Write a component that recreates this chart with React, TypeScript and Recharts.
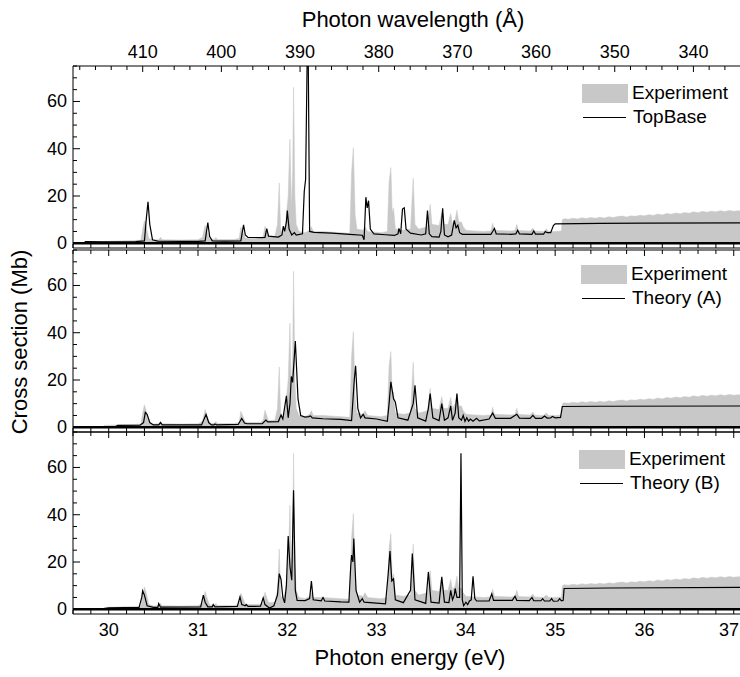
import React from "react";
import {
  ComposedChart,
  Area,
  Line,
  XAxis,
  YAxis,
  ReferenceLine,
  Legend,
} from "recharts";

// photon energy (eV), cross section (Mb)
const experiment: [number, number][] = [
  [29.93, 0], [29.95, 0.8], [30.1, 1.0], [30.3, 1.2], [30.36, 1.3], [30.38, 6], [30.4, 9.5],
  [30.42, 7], [30.45, 2], [30.5, 1.4], [30.56, 1.5], [30.58, 2.5], [30.6, 1.5], [30.8, 1.4],
  [31.0, 1.5], [31.05, 2.5], [31.08, 7.5], [31.1, 5], [31.13, 1.8], [31.18, 1.6], [31.2, 2.4],
  [31.22, 1.6], [31.4, 1.6], [31.46, 2], [31.48, 6.8], [31.5, 5], [31.53, 2.2], [31.56, 2],
  [31.7, 2], [31.73, 3], [31.75, 7.2], [31.77, 5], [31.79, 2.8], [31.86, 3], [31.89, 8],
  [31.91, 25.5], [31.925, 6], [31.95, 4], [31.98, 8], [32.01, 20], [32.03, 44], [32.045, 15],
  [32.06, 30], [32.07, 66], [32.085, 20], [32.1, 8], [32.13, 5], [32.2, 4.5], [32.25, 5.5],
  [32.27, 7], [32.29, 5], [32.4, 5], [32.6, 4.5], [32.7, 4.2], [32.72, 30], [32.74, 40.5],
  [32.76, 12], [32.78, 6], [32.85, 5.5], [32.87, 7], [32.9, 5], [33.05, 4.5], [33.12, 5],
  [33.14, 26], [33.16, 32], [33.175, 13], [33.19, 15], [33.21, 6], [33.3, 5.5], [33.38, 6],
  [33.41, 27.5], [33.43, 8], [33.47, 6], [33.57, 7], [33.6, 16.4], [33.62, 8], [33.7, 7.5],
  [33.73, 13], [33.75, 8], [33.8, 8], [33.83, 12.6], [33.85, 8], [33.88, 10], [33.9, 14],
  [33.92, 9], [33.95, 9], [33.97, 7], [34.0, 5.5], [34.1, 5.2], [34.2, 5], [34.28, 5.2],
  [34.3, 8.5], [34.32, 5.5], [34.5, 5.2], [34.55, 5.4], [34.57, 8], [34.59, 5.4], [34.72, 5.2],
  [34.75, 6.5], [34.77, 5.2], [34.87, 5], [34.9, 6], [34.93, 5], [35.0, 5], [35.07, 5.2],
  [35.08, 10], [35.1, 10.4], [35.15, 10.2], [35.2, 10.6], [35.25, 10.3], [35.3, 10.8],
  [35.35, 10.5], [35.4, 10.9], [35.45, 10.6], [35.5, 11.0], [35.55, 10.7], [35.6, 11.2],
  [35.65, 10.9], [35.7, 11.3], [35.75, 11.5], [35.8, 11.1], [35.85, 11.6], [35.9, 11.4],
  [35.95, 11.9], [36.0, 11.6], [36.05, 12.1], [36.1, 11.8], [36.15, 12.4], [36.2, 12.0],
  [36.25, 12.6], [36.3, 12.3], [36.35, 12.8], [36.4, 12.5], [36.45, 13.0], [36.5, 12.7],
  [36.55, 13.3], [36.6, 12.9], [36.65, 13.5], [36.7, 13.1], [36.75, 13.6], [36.8, 13.3],
  [36.85, 13.8], [36.9, 13.4], [36.95, 13.9], [37.0, 13.5], [37.05, 13.8], [37.1, 13.6],
];

const topBase: [number, number][] = [
  [29.6, 0], [29.72, 0], [29.74, 0.7], [30.0, 0.6], [30.3, 0.7], [30.4, 1], [30.42, 10],
  [30.44, 17.5], [30.46, 8], [30.49, 1.5], [30.55, 0.9], [30.8, 0.8], [31.0, 0.8], [31.08, 1],
  [31.11, 8.8], [31.13, 3], [31.16, 1], [31.3, 0.9], [31.48, 1], [31.51, 7.8], [31.53, 3.5],
  [31.56, 2.5], [31.7, 2.4], [31.75, 2.5], [31.77, 6.2], [31.79, 3], [31.9, 2.6], [31.94, 3.5],
  [31.955, 7.2], [31.97, 5], [31.99, 9], [32.0, 13.8], [32.02, 6], [32.05, 3.5], [32.08, 4.5],
  [32.1, 3.5], [32.17, 4], [32.19, 22], [32.205, 27], [32.23, 100], [32.25, 5], [32.3, 4.6],
  [32.5, 4.3], [32.7, 3.8], [32.84, 3.4], [32.86, 1.5], [32.88, 19.5], [32.895, 15],
  [32.91, 18], [32.93, 6], [32.97, 4], [33.1, 3.6], [33.2, 3.3], [33.24, 4], [33.25, 6.3],
  [33.27, 4], [33.29, 14.5], [33.31, 15], [33.33, 6], [33.38, 4.3], [33.5, 3.5], [33.55, 4],
  [33.57, 13.8], [33.59, 4], [33.62, 2.8], [33.7, 2.6], [33.72, 5], [33.74, 14.8], [33.76, 3.5],
  [33.8, 2.7], [33.84, 3.5], [33.87, 9.7], [33.89, 6.5], [33.91, 7.6], [33.93, 4.5],
  [33.96, 3.8], [34.1, 3.8], [34.28, 3.8], [34.3, 5], [34.32, 6.3], [34.34, 4], [34.5, 3.8],
  [34.56, 4], [34.58, 5.5], [34.6, 4], [34.74, 3.8], [34.76, 5.2], [34.78, 3.9], [34.87, 3.9],
  [34.89, 5], [34.91, 4.5], [34.95, 4.5], [34.98, 7.5], [35.0, 8.2], [35.5, 8.4], [36.0, 8.5],
  [37.1, 8.6],
];

const theoryA: [number, number][] = [
  [29.6, 0.2], [30.08, 0.3], [30.1, 0.8], [30.35, 0.9], [30.39, 2], [30.41, 6.3], [30.43, 5.5],
  [30.46, 2], [30.5, 1], [30.56, 1], [30.58, 2], [30.6, 1], [31.04, 1], [31.09, 5.4],
  [31.12, 2], [31.15, 1], [31.18, 1], [31.19, 1.4], [31.21, 1], [31.45, 1.2], [31.49, 3.7],
  [31.52, 1.8], [31.55, 1.5], [31.72, 1.5], [31.76, 3], [31.78, 2.3], [31.9, 2.4], [31.93, 5.2],
  [31.95, 3.5], [31.99, 13.3], [32.01, 4], [32.03, 10], [32.045, 21.5], [32.06, 19],
  [32.09, 36.5], [32.12, 12], [32.15, 5], [32.2, 4.3], [32.24, 4.5], [32.26, 4.8], [32.28, 4],
  [32.4, 3.6], [32.6, 3.3], [32.72, 2.8], [32.75, 20], [32.765, 26], [32.79, 8], [32.82, 4],
  [32.85, 5.5], [32.87, 4], [33.0, 3.5], [33.12, 2.5], [33.14, 10], [33.16, 19.2], [33.19, 12],
  [33.21, 10.7], [33.24, 4], [33.35, 3], [33.41, 10], [33.43, 17.8], [33.46, 4], [33.55, 2.6],
  [33.58, 8], [33.6, 14.3], [33.63, 4], [33.7, 2.8], [33.73, 10], [33.76, 3], [33.8, 4],
  [33.83, 9], [33.85, 3], [33.88, 6], [33.9, 14.3], [33.92, 4], [33.95, 3], [33.97, 5],
  [33.99, 2.5], [34.01, 4], [34.03, 2.6], [34.05, 3.5], [34.08, 2.6], [34.12, 3.8],
  [34.15, 2.7], [34.26, 3.5], [34.3, 6], [34.33, 3.8], [34.5, 3.8], [34.57, 5.5], [34.6, 3.9],
  [34.72, 3.8], [34.75, 5], [34.78, 3.8], [34.85, 3.8], [34.88, 4.8], [34.91, 3.9], [34.95, 4],
  [34.97, 4.6], [35.0, 4], [35.06, 4.2], [35.08, 8.8], [35.5, 8.9], [37.1, 9],
];

const theoryB: [number, number][] = [
  [29.6, 0.2], [29.95, 0.3], [30.0, 0.6], [30.34, 0.8], [30.37, 5], [30.38, 7.8], [30.4, 6],
  [30.43, 1.5], [30.5, 0.8], [30.55, 0.8], [30.56, 2.4], [30.58, 0.9], [31.03, 1], [31.06, 6],
  [31.08, 3], [31.11, 1], [31.16, 1], [31.17, 2], [31.19, 1], [31.44, 1.2], [31.47, 5.2],
  [31.49, 2], [31.53, 1.5], [31.54, 2], [31.56, 1.2], [31.7, 1.3], [31.73, 4.8], [31.75, 2],
  [31.8, 0.5], [31.85, 1.5], [31.89, 6], [31.91, 15.1], [31.93, 12.6], [31.95, 5], [31.97, 2.7],
  [31.99, 10], [32.01, 31], [32.03, 18], [32.05, 12.3], [32.07, 50.4], [32.09, 8], [32.11, 3.8],
  [32.2, 3.7], [32.25, 4.5], [32.27, 11.9], [32.29, 4], [32.38, 3.6], [32.4, 5], [32.42, 3.5],
  [32.6, 3.1], [32.69, 3], [32.71, 18], [32.72, 22.9], [32.735, 20], [32.745, 29.9],
  [32.77, 8], [32.81, 3], [32.84, 4.5], [32.86, 3], [33.1, 2.3], [33.13, 15], [33.15, 24.6],
  [33.17, 12], [33.19, 12.9], [33.21, 4], [33.3, 2.8], [33.38, 8], [33.4, 23.6], [33.43, 4],
  [33.55, 2.5], [33.58, 15.8], [33.61, 3], [33.7, 2.6], [33.73, 13.7], [33.76, 3], [33.81, 2.8],
  [33.83, 8], [33.85, 4], [33.87, 6], [33.88, 8.8], [33.9, 5], [33.93, 5], [33.945, 66],
  [33.96, 4], [33.975, 1.5], [34.0, 3], [34.02, 2], [34.04, 3.5], [34.06, 4], [34.08, 14],
  [34.1, 4.5], [34.12, 3.5], [34.26, 3.5], [34.29, 6.5], [34.31, 3.8], [34.52, 3.8],
  [34.55, 5.5], [34.57, 3.8], [34.71, 3.7], [34.74, 5], [34.76, 3.6], [34.84, 3.6],
  [34.86, 4.5], [34.88, 3.5], [34.94, 3.5], [34.96, 4.5], [34.98, 3.4], [35.03, 3.5],
  [35.05, 4.5], [35.07, 3.6], [35.09, 3.8], [35.1, 8.8], [35.6, 9], [37.1, 9.3],
];

const energyTicks = Array.from({ length: 38 }, (_, i) => +(29.6 + 0.2 * i).toFixed(1));
const wavelengthTicks = Array.from({ length: 42 }, (_, i) => 418 - 2 * i); // 418 .. 336 Å
const yTicks = [0, 5, 10, 15, 20, 25, 30, 35, 40, 45, 50, 55, 60, 65, 70, 75];

// the wavelength scale sits linearly on the energy scale of the plot
const WL_E0 = 30.3806; // energy position of 410 Å
const WL_SLOPE = 0.08811; // eV per Å
const wlToE = (wl: number) => WL_E0 + (410 - wl) * WL_SLOPE;
const eToWl = (e: number) => Math.round(410 - (e - WL_E0) / WL_SLOPE);

const W = 740;
const X_DOMAIN: [number, number] = [29.6, 37.07];
const Y_DOMAIN: [number, number] = [-2, 75];
const FONT = '"Liberation Sans", Arial, Helvetica, sans-serif';
const GRAY = "#c8c8c8";
const GAP = 8;

const toRows = (arr: [number, number][]) => arr.map(([e, v]) => ({ e, v }));
const expRows = toRows(experiment);

const EnergyTick = (props: any) => {
  const { x, y, payload, side, showLabel } = props;
  const v = payload.value;
  const major = Math.abs(v - Math.round(v)) < 1e-6;
  const len = major ? 6 : 4;
  if (side === "bottom") {
    const ay = y - GAP;
    return (
      <g>
        <line x1={x} x2={x} y1={ay} y2={ay - len} stroke="#000" strokeWidth={1} />
        {showLabel && major && (
          <text
            x={Math.min(x, W - 11)}
            y={ay + 22}
            textAnchor="middle"
            fontSize={18}
            fontFamily={FONT}
            fill="#000"
          >
            {Math.round(v)}
          </text>
        )}
      </g>
    );
  }
  const ay = y + GAP;
  return <line x1={x} x2={x} y1={ay} y2={ay + len} stroke="#000" strokeWidth={1} />;
};

const WavelengthTick = (props: any) => {
  const { x, y, payload } = props;
  const wl = eToWl(payload.value);
  const major = wl % 10 === 0;
  const ay = y + GAP;
  return (
    <g>
      <line x1={x} x2={x} y1={ay} y2={ay + (major ? 6 : 4)} stroke="#000" strokeWidth={1} />
      {major && (
        <text x={x} y={ay - 8} textAnchor="middle" fontSize={18} fontFamily={FONT} fill="#000">
          {wl}
        </text>
      )}
    </g>
  );
};

const YTick = (props: any) => {
  const { x, y, payload } = props;
  const v = payload.value;
  const major = v % 20 === 0;
  const ax = x + 6;
  return (
    <g>
      <line x1={ax} x2={ax + (major ? 7 : 4)} y1={y} y2={y} stroke="#000" strokeWidth={1} />
      {major && (
        <text x={x} y={y} dy={6} textAnchor="end" fontSize={18} fontFamily={FONT} fill="#000">
          {v}
        </text>
      )}
    </g>
  );
};

const LegendBox = ({ label }: { label: string }) => (
  <div style={{ fontFamily: FONT, fontSize: 19, color: "#000", lineHeight: "24px" }}>
    <div style={{ display: "flex", alignItems: "center", height: 24 }}>
      <span style={{ display: "inline-block", width: 46, height: 19, background: GRAY, marginRight: 4 }} />
      <span>Experiment</span>
    </div>
    <div style={{ display: "flex", alignItems: "center", height: 24 }}>
      <span style={{ display: "inline-block", width: 43, borderTop: "1.3px solid #000", marginLeft: 1, marginRight: 7 }} />
      <span>{label}</span>
    </div>
  </div>
);

type PanelProps = {
  theory: [number, number][];
  label: string;
  top: number;
  height: number;
  topH: number;
  bottomH: number;
  pad: number;
  wavelength?: boolean;
  energyLabels?: boolean;
  legendTop: number;
  legendLeft: number;
};

const Panel = (p: PanelProps) => (
  <div style={{ position: "absolute", left: 0, top: p.top }}>
    <ComposedChart width={W} height={p.height} margin={{ top: 0, right: 0, bottom: p.pad, left: 0 }}>
      <XAxis
        xAxisId="top"
        orientation="top"
        dataKey="e"
        type="number"
        domain={X_DOMAIN}
        allowDataOverflow
        height={p.topH}
        ticks={p.wavelength ? wavelengthTicks.map(wlToE) : energyTicks}
        interval={0}
        tickSize={0}
        tickMargin={GAP}
        tickLine={false}
        axisLine={{ stroke: "#000" }}
        tick={(t: any) => (p.wavelength ? <WavelengthTick {...t} /> : <EnergyTick {...t} side="top" />)}
      />
      <XAxis
        xAxisId="bottom"
        orientation="bottom"
        dataKey="e"
        type="number"
        domain={X_DOMAIN}
        allowDataOverflow
        height={p.bottomH}
        ticks={energyTicks}
        interval={0}
        tickSize={0}
        tickMargin={GAP}
        tickLine={false}
        axisLine={{ stroke: "#000" }}
        tick={(t: any) => <EnergyTick {...t} side="bottom" showLabel={p.energyLabels} />}
      />
      <YAxis
        type="number"
        domain={Y_DOMAIN}
        allowDataOverflow
        width={73}
        ticks={yTicks}
        interval={0}
        tickSize={0}
        tickMargin={6}
        tickLine={false}
        axisLine={{ stroke: "#000" }}
        tick={(t: any) => <YTick {...t} />}
      />
      <Area
        xAxisId="bottom"
        data={expRows}
        dataKey="v"
        type="linear"
        baseValue={0}
        fill={GRAY}
        fillOpacity={1}
        stroke={GRAY}
        strokeWidth={0.5}
        isAnimationActive={false}
      />
      <Line
        xAxisId="top"
        data={toRows(p.theory)}
        dataKey="v"
        type="linear"
        stroke="#000"
        strokeWidth={1.2}
        dot={false}
        isAnimationActive={false}
      />
      <ReferenceLine xAxisId="bottom" y={0} stroke="#000" strokeWidth={2.5} />
      <Legend
        layout="vertical"
        align="center"
        verticalAlign="middle"
        wrapperStyle={{ top: p.legendTop, left: p.legendLeft, width: "auto" }}
        content={() => <LegendBox label={p.label} />}
      />
    </ComposedChart>
  </div>
);

export default function App() {
  return (
    <div style={{ position: "absolute", left: 0, top: 0, width: W, height: 677, background: "#fff" }}>
      <Panel theory={topBase} label="TopBase" top={0} height={258} pad={8} topH={66} bottomH={2} wavelength legendTop={81} legendLeft={582} />
      <Panel theory={theoryA} label="Theory (A)" top={248} height={194} pad={8} topH={2} bottomH={2} legendTop={14} legendLeft={581} />
      <Panel theory={theoryB} label="Theory (B)" top={430} height={247} pad={0} topH={2} bottomH={63} energyLabels legendTop={17} legendLeft={579} />
      <svg width={W} height={677} style={{ position: "absolute", left: 0, top: 0, pointerEvents: "none" }}>
        <text x={413} y={27} textAnchor="middle" fontSize={22} fontFamily={FONT} fill="#000">
          Photon wavelength (Å)
        </text>
        <text x={410} y={665} textAnchor="middle" fontSize={22} fontFamily={FONT} fill="#000">
          Photon energy (eV)
        </text>
        <text
          x={0}
          y={0}
          transform="translate(27 342) rotate(-90)"
          textAnchor="middle"
          fontSize={22}
          fontFamily={FONT}
          fill="#000"
        >
          Cross section (Mb)
        </text>
      </svg>
    </div>
  );
}
